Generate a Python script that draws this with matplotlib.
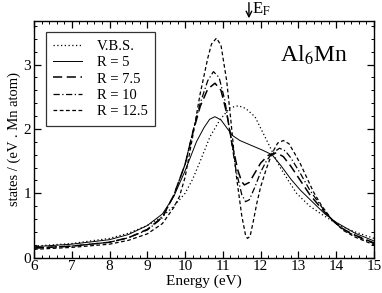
import matplotlib
matplotlib.use("Agg")
import matplotlib.pyplot as plt
from matplotlib.ticker import MultipleLocator

plt.rcParams['font.family'] = ['Liberation Serif', 'DejaVu Serif']
plt.rcParams['mathtext.fontset'] = 'stix'

# ---- data ----
vbs_e = [6.0, 7.0, 8.0, 8.5, 9.0, 9.4, 9.7, 10.0, 10.2, 10.4, 10.66, 10.92, 11.19, 11.41,
         11.6, 11.85, 12.07, 12.29, 12.51, 12.73, 12.95, 13.3, 13.6, 13.9, 14.2, 14.5, 15.0]
vbs_y = [0.18, 0.22, 0.30, 0.38, 0.50, 0.64, 0.80, 1.00, 1.22, 1.50, 1.88, 2.14, 2.33, 2.36,
         2.32, 2.19, 1.93, 1.67, 1.41, 1.20, 1.00, 0.80, 0.68, 0.57, 0.47, 0.40, 0.30]

r5_e = [6.0, 7.0, 8.0, 8.5, 9.0, 9.4, 9.7, 10.0, 10.3, 10.5, 10.65, 10.79, 10.95, 11.1,
        11.25, 11.45, 11.65, 11.85, 12.05, 12.3, 12.55, 12.8, 13.05, 13.4, 13.7, 14.0, 14.5, 15.0]
r5_y = [0.17, 0.21, 0.28, 0.36, 0.50, 0.68, 0.95, 1.35, 1.80, 2.02, 2.15, 2.19, 2.14, 2.02,
        1.90, 1.82, 1.77, 1.72, 1.67, 1.60, 1.42, 1.22, 1.05, 0.85, 0.68, 0.55, 0.38, 0.26]

r75_e = [6.0, 7.0, 8.0, 8.5, 9.0, 9.4, 9.7, 10.0, 10.2, 10.4, 10.6, 10.79, 10.95, 11.1,
         11.25, 11.4, 11.5, 11.57, 11.7, 11.85, 12.0, 12.2, 12.42, 12.6, 12.8, 13.05, 13.3,
         13.6, 13.9, 14.2, 14.5, 15.0]
r75_y = [0.15, 0.18, 0.24, 0.31, 0.44, 0.63, 0.97, 1.45, 1.93, 2.35, 2.62, 2.71, 2.60, 2.25,
         1.75, 1.35, 1.18, 1.13, 1.17, 1.32, 1.47, 1.59, 1.63, 1.57, 1.42, 1.20, 0.98,
         0.77, 0.58, 0.44, 0.35, 0.23]

r10_e = [6.0, 7.0, 8.0, 8.5, 9.0, 9.4, 9.7, 10.0, 10.2, 10.4, 10.6, 10.75, 10.9, 11.05,
         11.2, 11.35, 11.5, 11.6, 11.7, 11.85, 12.0, 12.15, 12.3, 12.5, 12.65, 12.8, 13.05,
         13.3, 13.6, 13.9, 14.2, 14.5, 15.0]
r10_y = [0.15, 0.18, 0.24, 0.31, 0.43, 0.62, 0.97, 1.45, 1.95, 2.40, 2.75, 2.89, 2.80, 2.45,
         1.90, 1.35, 0.98, 0.87, 0.90, 1.10, 1.33, 1.50, 1.62, 1.70, 1.66, 1.55, 1.31,
         1.05, 0.80, 0.58, 0.43, 0.34, 0.22]

r125_e = [6.0, 7.0, 8.0, 8.5, 9.0, 9.4, 9.7, 9.85, 10.0, 10.2, 10.4, 10.6, 10.7, 10.83,
          10.95, 11.1, 11.2, 11.35, 11.5, 11.6, 11.65, 11.72, 11.8, 11.9, 12.0, 12.15, 12.3,
          12.45, 12.6, 12.75, 12.9, 13.05, 13.2, 13.4, 13.6, 13.9, 14.2, 14.5, 15.0]
r125_y = [0.13, 0.16, 0.21, 0.27, 0.37, 0.53, 0.78, 0.95, 1.25, 1.88, 2.55, 3.10, 3.32, 3.41,
          3.30, 2.75, 2.20, 1.30, 0.65, 0.35, 0.30, 0.33, 0.55, 0.85, 1.10, 1.38, 1.62,
          1.78, 1.82, 1.77, 1.62, 1.46, 1.27, 1.02, 0.82, 0.58, 0.42, 0.32, 0.20]

labels = ["V.B.S.", "R = 5", "R = 7.5", "R = 10", "R = 12.5"]
e_fermi = 11.69

fig = plt.figure(figsize=(3.82, 2.93), dpi=100)
ax = fig.add_axes([0.089, 0.1205, 0.890, 0.8075])

lw = 0.9
ax.plot(vbs_e, vbs_y, color='black', lw=lw, linestyle=(0, (1, 2)), label=labels[0])
ax.plot(r5_e, r5_y, color='black', lw=0.7, linestyle='-', label=labels[1])
ax.plot(r75_e, r75_y, color='black', lw=1.1, linestyle=(0, (6, 3)), label=labels[2])
ax.plot(r10_e, r10_y, color='black', lw=lw, linestyle=(0, (5, 2, 1, 2)), label=labels[3])
ax.plot(r125_e, r125_y, color='black', lw=lw, linestyle=(0, (3, 2)), label=labels[4])

ax.set_xlim(6, 15)
ax.set_ylim(0, 3.675)
ax.xaxis.set_major_locator(MultipleLocator(1))
ax.xaxis.set_minor_locator(MultipleLocator(0.2))
ax.yaxis.set_major_locator(MultipleLocator(1))
ax.yaxis.set_minor_locator(MultipleLocator(0.2))
ax.tick_params(which='both', direction='in', top=True, right=True, labelsize=11, pad=2)
ax.tick_params(which='major', length=5, width=0.9)
ax.tick_params(which='minor', length=2.5, width=0.7)
for s in ax.spines.values():
    s.set_linewidth(1.0)

ax.set_xlabel("Energy (eV)", fontsize=11, labelpad=1)
ax.set_ylabel("states / (eV . Mn atom)", fontsize=10.5, labelpad=2)

leg = ax.legend(loc='upper left', bbox_to_anchor=(0.034, 0.953), fontsize=10.5,
                frameon=True, fancybox=False, handlelength=2.0, handletextpad=1.0,
                borderpad=0.5, labelspacing=0.22, borderaxespad=0.0)
leg.get_frame().set_edgecolor('black')
leg.get_frame().set_linewidth(0.9)

ax.text(0.725, 0.83, r"Al$_6$Mn", transform=ax.transAxes, fontsize=17,
        ha='left', va='baseline')

ax.annotate("", xy=(e_fermi, 3.675), xycoords='data',
            xytext=(e_fermi, 3.675 + 0.33), textcoords='data',
            arrowprops=dict(arrowstyle='->', color='black', lw=1.0),
            annotation_clip=False)
ax.text(e_fermi + 0.07, 3.675 + 0.11, r"E$_\mathrm{F}$", fontsize=12,
        ha='left', va='baseline')

fig.savefig("out.png", dpi=100)
